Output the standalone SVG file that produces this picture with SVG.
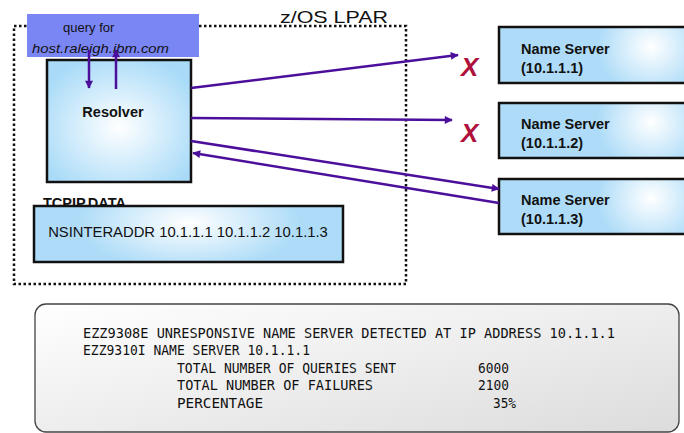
<svg xmlns="http://www.w3.org/2000/svg" width="684" height="433" viewBox="0 0 684 433">
<defs>
<radialGradient id="gRes" cx="0.5" cy="0.55" r="0.6">
<stop offset="0" stop-color="#ffffff"/>
<stop offset="1" stop-color="#a9dbf8"/>
</radialGradient>
<radialGradient id="gNs" cx="0.78" cy="0.35" r="0.55" gradientTransform="translate(0.78 0.35) scale(0.5 1.6) translate(-0.78 -0.35)">
<stop offset="0" stop-color="#ffffff"/>
<stop offset="1" stop-color="#aedcf8"/>
</radialGradient>
<radialGradient id="gData" cx="0.5" cy="0.3" r="0.6" gradientTransform="translate(0.5 0.3) scale(0.6 1.4) translate(-0.5 -0.3)">
<stop offset="0" stop-color="#ffffff"/>
<stop offset="1" stop-color="#aedcf8"/>
</radialGradient>
<linearGradient id="gLog" x1="0" y1="0" x2="1" y2="1">
<stop offset="0" stop-color="#ffffff"/>
<stop offset="1" stop-color="#dcdcdc"/>
</linearGradient>
<marker id="ah" viewBox="0 0 10 10" refX="9" refY="5" markerWidth="10" markerHeight="8" markerUnits="userSpaceOnUse" orient="auto">
<path d="M0,0 L10,5 L0,10 z" fill="#4b0f9b"/>
</marker>
</defs>
<style>
.box{stroke:#111;stroke-width:2.5}
.lbl{font-family:"Liberation Sans",Arial,sans-serif;fill:#111}
.b{font-weight:bold}
.con{stroke:#4b0f9b;stroke-width:2.5;fill:none;marker-end:url(#ah)}
.x{font-family:"Liberation Sans",Arial,sans-serif;font-weight:bold;font-style:italic;font-size:26px;fill:#b0103c}
.mono{font-family:"DejaVu Sans Mono","Liberation Mono",monospace;font-size:14px;fill:#111}
</style>
<rect width="684" height="433" fill="#ffffff"/>

<g id="lpar">
<rect x="14" y="26" width="392" height="258" fill="none" stroke="#111" stroke-width="2.5" stroke-dasharray="2.5 2.5"/>
<text class="lbl" x="280" y="23" font-size="17" textLength="108" lengthAdjust="spacingAndGlyphs">z/OS LPAR</text>
</g>

<g id="query">
<rect x="27" y="14" width="172" height="43" fill="#7b86f5"/>
<text class="lbl" x="63" y="32" font-size="13">query for</text>
<text class="lbl" x="32" y="53" font-size="13" font-style="italic" textLength="137" lengthAdjust="spacingAndGlyphs">host.raleigh.ibm.com</text>
</g>

<g id="resolver">
<rect class="box" x="47" y="60" width="144" height="122" fill="url(#gRes)"/>
<text class="lbl b" x="113" y="117" font-size="14.5" text-anchor="middle">Resolver</text>
</g>

<g id="tcpipdata">
<text class="lbl b" x="43" y="208" font-size="14.5">TCPIP.DATA</text>
<rect class="box" x="34" y="206" width="309" height="56" fill="url(#gData)"/>
<text class="lbl" x="188" y="237" font-size="14.8" text-anchor="middle">NSINTERADDR 10.1.1.1 10.1.1.2 10.1.1.3</text>
</g>

<g id="ns1">
<rect class="box" x="499" y="27" width="195" height="56" fill="url(#gNs)"/>
<text class="lbl b" x="521" y="54" font-size="14.5">Name Server</text>
<text class="lbl b" x="521" y="73" font-size="14.5">(10.1.1.1)</text>
</g>
<g id="ns2">
<rect class="box" x="499" y="103" width="195" height="55" fill="url(#gNs)"/>
<text class="lbl b" x="521" y="129" font-size="14.5">Name Server</text>
<text class="lbl b" x="521" y="148" font-size="14.5">(10.1.1.2)</text>
</g>
<g id="ns3">
<rect class="box" x="499" y="179" width="195" height="55" fill="url(#gNs)"/>
<text class="lbl b" x="521" y="205" font-size="14.5">Name Server</text>
<text class="lbl b" x="521" y="224" font-size="14.5">(10.1.1.3)</text>
</g>

<g id="fail1"><text class="x" x="461" y="76">X</text></g>
<g id="fail2"><text class="x" x="461" y="142">X</text></g>

<g id="connectors">
<line class="con" x1="89" y1="50" x2="89" y2="88"/>
<line class="con" x1="116" y1="89" x2="116" y2="50"/>
<line class="con" x1="191" y1="88" x2="458" y2="55"/>
<line class="con" x1="191" y1="118" x2="452" y2="120"/>
<line class="con" x1="191" y1="141" x2="499" y2="189"/>
<line class="con" x1="499" y1="203" x2="193" y2="153"/>
</g>

<g id="log">
<rect x="35" y="304" width="644" height="128" rx="11" ry="11" fill="url(#gLog)" stroke="#444" stroke-width="1.3"/>
<text class="mono" x="83" y="338" textLength="532" lengthAdjust="spacingAndGlyphs">EZZ9308E UNRESPONSIVE NAME SERVER DETECTED AT IP ADDRESS 10.1.1.1</text>
<text class="mono" x="83" y="355" textLength="227" lengthAdjust="spacingAndGlyphs">EZZ9310I NAME SERVER 10.1.1.1</text>
<text class="mono" x="177" y="373" textLength="219" lengthAdjust="spacingAndGlyphs">TOTAL NUMBER OF QUERIES SENT</text>
<text class="mono" x="478" y="373" textLength="31" lengthAdjust="spacingAndGlyphs">6000</text>
<text class="mono" x="177" y="390" textLength="196" lengthAdjust="spacingAndGlyphs">TOTAL NUMBER OF FAILURES</text>
<text class="mono" x="478" y="390" textLength="31" lengthAdjust="spacingAndGlyphs">2100</text>
<text class="mono" x="177" y="408" textLength="86" lengthAdjust="spacingAndGlyphs">PERCENTAGE</text>
<text class="mono" x="493" y="408" textLength="23" lengthAdjust="spacingAndGlyphs">35%</text>
</g>
</svg>
